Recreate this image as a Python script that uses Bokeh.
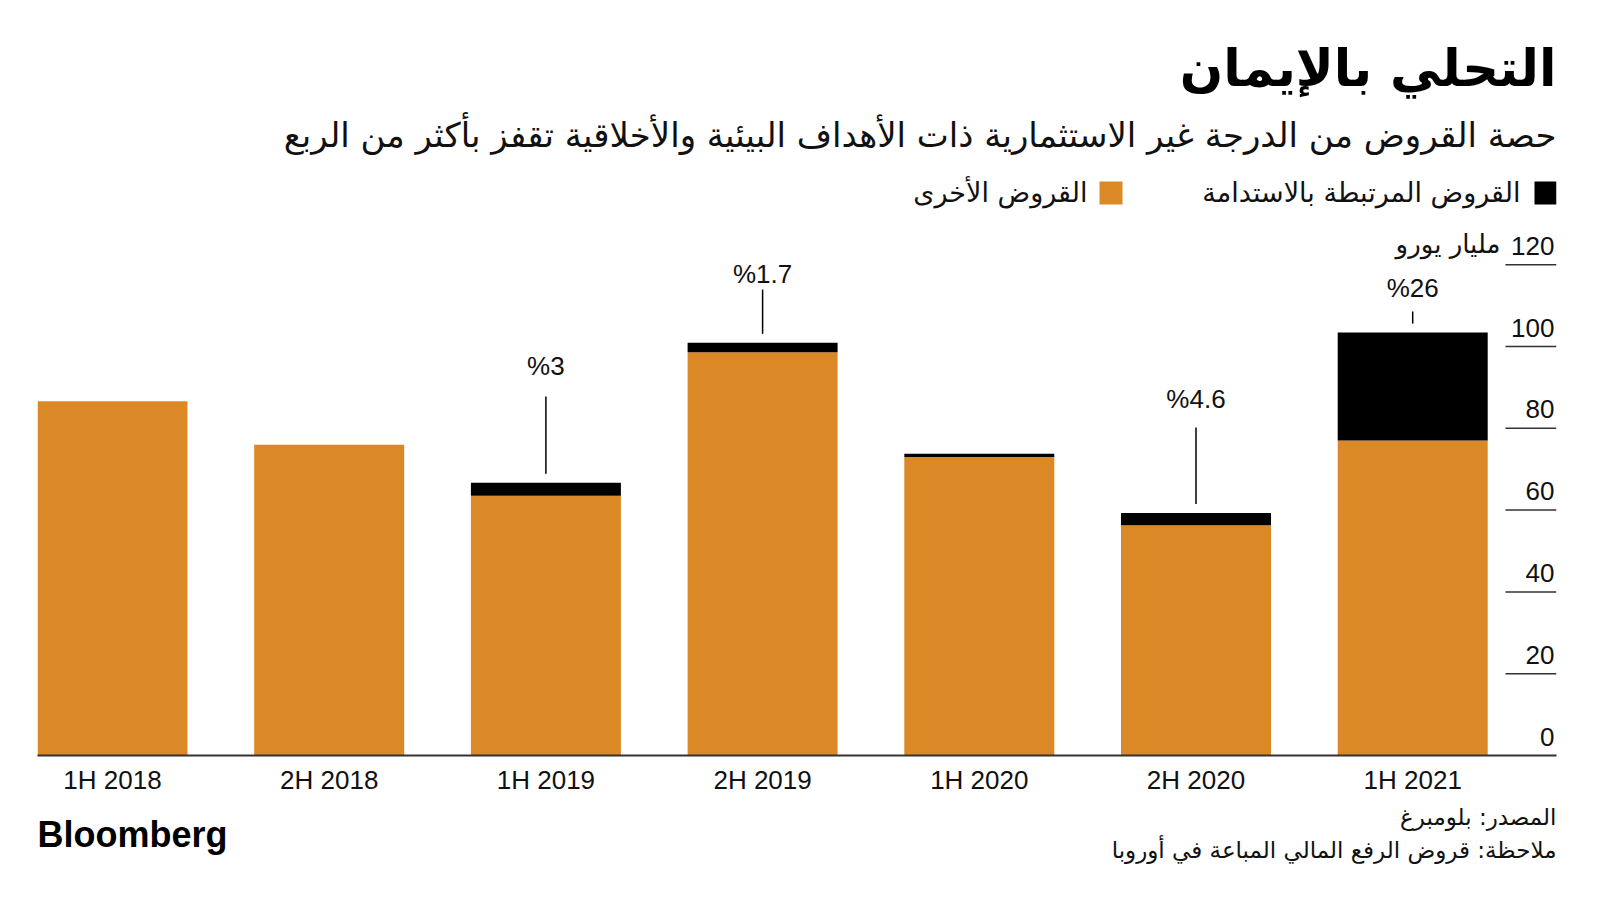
from bokeh.plotting import figure
from bokeh.models import ColumnDataSource, Range1d, FixedTicker, Label
from bokeh.layouts import column
from bokeh.core.properties import value
from bokeh.embed import file_html
from bokeh.resources import INLINE

# ---------------- data ----------------
periods = ["1H 2018", "2H 2018", "1H 2019", "2H 2019", "1H 2020", "2H 2020", "1H 2021"]
other_loans = [86.6, 76.0, 63.5, 98.6, 73.0, 56.3, 77.0]
sustainability_loans = [0.0, 0.0, 3.2, 2.3, 0.8, 3.0, 26.4]
y_ticks = [0, 20, 40, 60, 80, 100, 120]
share_periods = ["1H 2019", "2H 2019", "2H 2020", "1H 2021"]
share_labels = ["%3", "%1.7", "%4.6", "%26"]

title_text = "التحلي بالإيمان"
subtitle_text = "حصة القروض من الدرجة غير الاستثمارية ذات الأهداف البيئية والأخلاقية تقفز بأكثر من الربع"
legend_sust = "القروض المرتبطة بالاستدامة"
legend_other = "القروض الأخرى"
unit_text = "مليار يورو"
source_text = "المصدر: بلومبرغ"
note_text = "ملاحظة: قروض الرفع المالي المباعة في أوروبا"

# ---------------- layout ----------------
W = 1584
H_MAIN, H_FOOT = 805, 80
FRAME_L, FRAME_R, BASE, TOP = 37, 1556, 755, 0
PX_PER_UNIT = 4.09
SPACING = 216.7
BAR_W = 150 / SPACING

ORANGE = "#DA8926"
AR_FONT = "DejaVu Sans"
LAT_FONT = "Liberation Sans"
INK = "#111111"


def X(px):
    return -BAR_W / 2 + (px - FRAME_L) / SPACING


def Y(py):
    return (BASE - py) / PX_PER_UNIT


x_idx = list(range(len(periods)))
totals = [o + s for o, s in zip(other_loans, sustainability_loans)]

src = ColumnDataSource(dict(x=x_idx, other=other_loans, sust=sustainability_loans, total=totals))

p = figure(width=W, height=H_MAIN, output_backend="svg", toolbar_location=None,
           x_range=Range1d(X(FRAME_L), X(FRAME_R)), y_range=Range1d(0, Y(TOP)),
           y_axis_location=None, min_border_left=FRAME_L, min_border_right=W - FRAME_R,
           min_border_top=0, min_border_bottom=H_MAIN - BASE)
p.outline_line_color = None
p.grid.visible = False
p.background_fill_color = "white"
p.border_fill_color = "white"

p.vbar(x="x", bottom=0, top="other", width=BAR_W, source=src, fill_color=ORANGE, line_color=None)
p.vbar(x="x", bottom="other", top="total", width=BAR_W, source=src, fill_color="black", line_color=None)

# x axis
ax = p.xaxis[0]
ax.ticker = FixedTicker(ticks=x_idx)
ax.major_label_overrides = {i: lab for i, lab in enumerate(periods)}
ax.major_tick_line_color = None
ax.minor_tick_line_color = None
ax.major_tick_out = 0
ax.major_tick_in = 0
ax.axis_line_color = "#333333"
ax.axis_line_width = 2
ax.major_label_text_font = LAT_FONT
ax.major_label_text_font_size = "26px"
ax.major_label_text_color = INK
ax.major_label_standoff = 9

# right-side value scale (short grid lines + labels)
grid_ticks = [t for t in y_ticks if t > 0]
p.segment(x0=[X(1505)] * len(grid_ticks), x1=[X(FRAME_R)] * len(grid_ticks),
          y0=grid_ticks, y1=grid_ticks, line_color="#333333", line_width=1.5)
p.text(x=[X(FRAME_R)] * len(y_ticks), y=y_ticks, text=[str(t) for t in y_ticks],
       text_align="right", text_baseline="bottom", x_offset=-2, y_offset=-10,
       text_font=value(LAT_FONT), text_font_size="26px", text_color=INK)
p.add_layout(Label(x=X(1500), y=120, y_offset=6, text=unit_text, text_align="right",
                   text_baseline="bottom", text_font=AR_FONT, text_font_size="26px",
                   text_color=INK))

# share annotations with leader lines
label_py = [365, 273, 398, 287]
line_top_py = [396, 289, 427, 311]
ann_x = [periods.index(pp) for pp in share_periods]
ann_total = [totals[i] for i in ann_x]
p.segment(x0=ann_x, x1=ann_x, y0=[t + 2.2 for t in ann_total], y1=[Y(v) for v in line_top_py],
          line_color="black", line_width=1.5)
p.text(x=ann_x, y=[Y(v) for v in label_py], text=share_labels, text_align="center",
       text_baseline="middle", text_font=value(LAT_FONT), text_font_size="26px",
       text_color=INK)

# title, subtitle
p.add_layout(Label(x=X(FRAME_R), y=Y(68), text=title_text, text_align="right",
                   text_baseline="alphabetic", text_font=AR_FONT, text_font_size="51px",
                   text_font_style="bold", text_color="black"))
p.add_layout(Label(x=X(FRAME_R), y=Y(134), text=subtitle_text, text_align="right",
                   text_baseline="alphabetic", text_font=AR_FONT, text_font_size="34px",
                   text_color=INK))

# legend
p.quad(left=[X(1534), X(1099)], right=[X(1556), X(1122)], top=[Y(181), Y(181)],
       bottom=[Y(204), Y(204)], fill_color=["black", ORANGE], line_color=None)
p.add_layout(Label(x=X(1520), y=Y(192), text=legend_sust, text_align="right",
                   text_baseline="alphabetic", text_font=AR_FONT, text_font_size="27px",
                   text_color=INK))
p.add_layout(Label(x=X(1087), y=Y(192), text=legend_other, text_align="right",
                   text_baseline="alphabetic", text_font=AR_FONT, text_font_size="27px",
                   text_color=INK))

# ---------------- footer ----------------
# (frames of a column are aligned, so the footer uses the same frame borders as the chart)
f = figure(width=W, height=H_FOOT, output_backend="svg", toolbar_location=None,
           x_range=Range1d(FRAME_L, FRAME_R), y_range=Range1d(0, H_FOOT),
           x_axis_location=None, y_axis_location=None,
           min_border_left=FRAME_L, min_border_right=W - FRAME_R, min_border_top=0,
           min_border_bottom=0)
f.outline_line_color = None
f.grid.visible = False


def FY(py):
    return H_MAIN + H_FOOT - py


f.add_layout(Label(x=FRAME_R, y=FY(816), text=source_text, text_align="right",
                   text_baseline="alphabetic", text_font=AR_FONT, text_font_size="23px",
                   text_color=INK))
f.add_layout(Label(x=FRAME_R, y=FY(849), text=note_text, text_align="right",
                   text_baseline="alphabetic", text_font=AR_FONT, text_font_size="23px",
                   text_color=INK))
f.add_layout(Label(x=FRAME_L, y=FY(834), text="Bloomberg", text_align="left",
                   text_baseline="middle", text_font=LAT_FONT, text_font_size="36px",
                   text_font_style="bold", text_color="black"))

layout = column(p, f, spacing=0)
open("out.html", "w").write(file_html(layout, INLINE))
